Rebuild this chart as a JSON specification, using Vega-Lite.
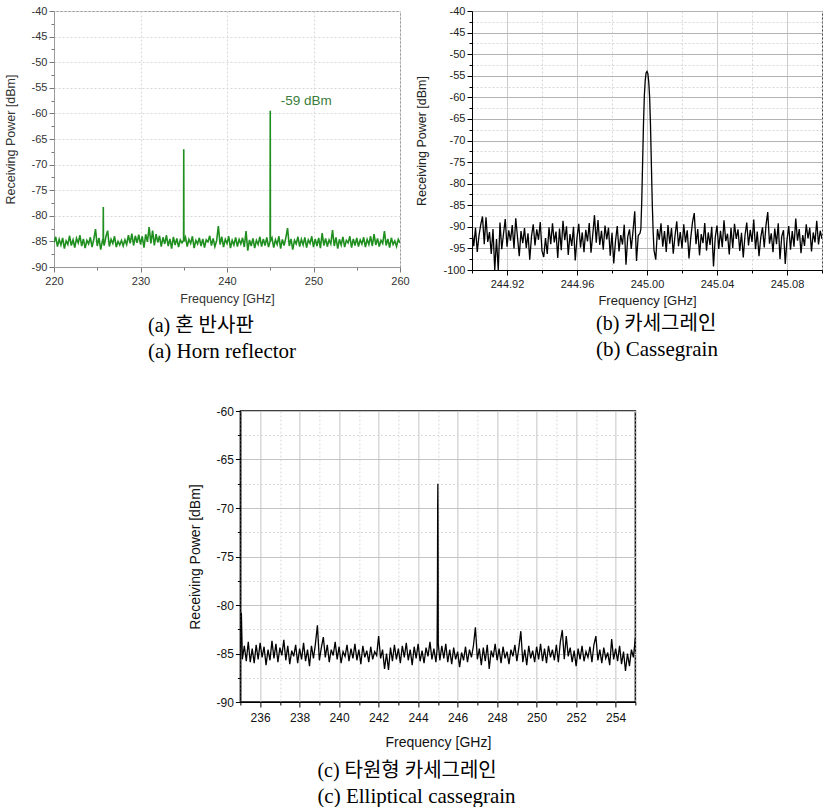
{
"$schema": "https://vega.github.io/schema/vega-lite/v6.json",
"padding": {"left": 3, "top": 4, "right": 0, "bottom": 0},
"config": {"font": "Liberation Sans", "background": "white", "axis": {"labelFlush": false, "labelOverlap": false, "titleFontWeight": "normal"}},
"datasets": {
"horn": [
{"f":220.0,"p":-85.2},{"f":220.2,"p":-84.1},{"f":220.4,"p":-86.0},{"f":220.6,"p":-84.6},{"f":220.8,"p":-85.7},{"f":221.0,"p":-84.3},{"f":221.2,"p":-86.4},{"f":221.4,"p":-84.9},{"f":221.6,"p":-85.6},{"f":221.8,"p":-83.9},
{"f":222.0,"p":-85.8},{"f":222.2,"p":-84.7},{"f":222.4,"p":-86.2},{"f":222.6,"p":-84.4},{"f":222.8,"p":-85.3},{"f":223.0,"p":-83.8},{"f":223.2,"p":-85.9},{"f":223.4,"p":-84.5},{"f":223.6,"p":-86.3},{"f":223.8,"p":-84.8},
{"f":224.0,"p":-85.5},{"f":224.2,"p":-84.2},{"f":224.4,"p":-86.1},{"f":224.6,"p":-84.6},{"f":224.8,"p":-82.6},{"f":225.0,"p":-85.9},{"f":225.2,"p":-84.3},{"f":225.4,"p":-86.6},{"f":225.6,"p":-84.9},{"f":225.68,"p":-85.1},{"f":225.7,"p":-78.3},{"f":225.72,"p":-85.0},{"f":225.8,"p":-85.8},
{"f":226.0,"p":-84.1},{"f":226.2,"p":-82.9},{"f":226.4,"p":-86.0},{"f":226.6,"p":-84.6},{"f":226.8,"p":-85.4},{"f":227.0,"p":-84.0},{"f":227.2,"p":-86.1},{"f":227.4,"p":-85.0},{"f":227.6,"p":-85.7},{"f":227.8,"p":-84.8},
{"f":228.0,"p":-85.9},{"f":228.2,"p":-84.7},{"f":228.4,"p":-85.6},{"f":228.6,"p":-83.8},{"f":228.8,"p":-85.4},{"f":229.0,"p":-83.5},{"f":229.2,"p":-85.8},{"f":229.4,"p":-83.9},{"f":229.6,"p":-85.3},{"f":229.8,"p":-83.7},
{"f":230.0,"p":-85.6},{"f":230.2,"p":-84.0},{"f":230.4,"p":-86.2},{"f":230.6,"p":-83.6},{"f":230.8,"p":-85.1},{"f":231.0,"p":-82.2},{"f":231.2,"p":-85.4},{"f":231.4,"p":-82.9},{"f":231.6,"p":-85.8},{"f":231.8,"p":-83.6},
{"f":232.0,"p":-85.2},{"f":232.2,"p":-83.9},{"f":232.4,"p":-86.0},{"f":232.6,"p":-84.2},{"f":232.8,"p":-85.5},{"f":233.0,"p":-83.8},{"f":233.2,"p":-85.9},{"f":233.4,"p":-84.5},{"f":233.6,"p":-86.4},{"f":233.8,"p":-84.1},
{"f":234.0,"p":-85.7},{"f":234.2,"p":-84.4},{"f":234.4,"p":-86.1},{"f":234.6,"p":-84.7},{"f":234.8,"p":-85.3},{"f":234.98,"p":-84.8},{"f":235.0,"p":-67.0},{"f":235.02,"p":-85.0},{"f":235.2,"p":-84.2},{"f":235.4,"p":-86.0},{"f":235.6,"p":-84.6},{"f":235.8,"p":-85.4},
{"f":236.0,"p":-84.0},{"f":236.2,"p":-86.3},{"f":236.4,"p":-84.8},{"f":236.6,"p":-85.5},{"f":236.8,"p":-84.3},{"f":237.0,"p":-85.9},{"f":237.2,"p":-84.5},{"f":237.4,"p":-86.2},{"f":237.6,"p":-84.7},{"f":237.8,"p":-85.1},
{"f":238.0,"p":-83.9},{"f":238.2,"p":-85.8},{"f":238.4,"p":-84.4},{"f":238.6,"p":-86.0},{"f":238.8,"p":-84.9},{"f":239.0,"p":-82.0},{"f":239.2,"p":-85.6},{"f":239.4,"p":-84.1},{"f":239.6,"p":-86.1},{"f":239.8,"p":-84.6},
{"f":240.0,"p":-85.4},{"f":240.2,"p":-84.0},{"f":240.4,"p":-86.3},{"f":240.6,"p":-84.8},{"f":240.8,"p":-85.7},{"f":241.0,"p":-84.2},{"f":241.2,"p":-86.0},{"f":241.4,"p":-84.6},{"f":241.6,"p":-85.5},{"f":241.8,"p":-84.3},
{"f":242.0,"p":-86.1},{"f":242.2,"p":-83.0},{"f":242.4,"p":-86.8},{"f":242.6,"p":-84.7},{"f":242.8,"p":-85.9},{"f":243.0,"p":-84.4},{"f":243.2,"p":-86.3},{"f":243.4,"p":-84.8},{"f":243.6,"p":-85.6},{"f":243.8,"p":-84.1},
{"f":244.0,"p":-86.0},{"f":244.2,"p":-84.5},{"f":244.4,"p":-85.8},{"f":244.6,"p":-84.2},{"f":244.8,"p":-86.1},{"f":244.98,"p":-85.0},{"f":245.0,"p":-59.5},{"f":245.02,"p":-84.9},{"f":245.2,"p":-84.3},{"f":245.4,"p":-86.2},{"f":245.6,"p":-84.7},{"f":245.8,"p":-85.6},
{"f":246.0,"p":-84.0},{"f":246.2,"p":-86.4},{"f":246.4,"p":-84.6},{"f":246.6,"p":-85.8},{"f":246.8,"p":-84.3},{"f":247.0,"p":-82.4},{"f":247.2,"p":-85.9},{"f":247.4,"p":-84.5},{"f":247.6,"p":-86.6},{"f":247.8,"p":-84.8},
{"f":248.0,"p":-85.5},{"f":248.2,"p":-84.1},{"f":248.4,"p":-86.0},{"f":248.6,"p":-84.6},{"f":248.8,"p":-85.7},{"f":249.0,"p":-84.2},{"f":249.2,"p":-86.2},{"f":249.4,"p":-84.7},{"f":249.6,"p":-85.4},{"f":249.8,"p":-84.0},
{"f":250.0,"p":-86.1},{"f":250.2,"p":-84.5},{"f":250.4,"p":-85.9},{"f":250.6,"p":-84.3},{"f":250.8,"p":-86.3},{"f":251.0,"p":-83.4},{"f":251.2,"p":-85.8},{"f":251.4,"p":-84.4},{"f":251.6,"p":-86.0},{"f":251.8,"p":-84.7},
{"f":252.0,"p":-85.5},{"f":252.2,"p":-82.8},{"f":252.4,"p":-85.9},{"f":252.6,"p":-84.2},{"f":252.8,"p":-86.4},{"f":253.0,"p":-84.6},{"f":253.2,"p":-85.7},{"f":253.4,"p":-84.1},{"f":253.6,"p":-86.1},{"f":253.8,"p":-84.8},
{"f":254.0,"p":-85.3},{"f":254.2,"p":-84.0},{"f":254.4,"p":-86.2},{"f":254.6,"p":-84.5},{"f":254.8,"p":-85.8},{"f":255.0,"p":-84.3},{"f":255.2,"p":-86.0},{"f":255.4,"p":-84.7},{"f":255.6,"p":-85.5},{"f":255.8,"p":-84.2},
{"f":256.0,"p":-86.1},{"f":256.2,"p":-84.6},{"f":256.4,"p":-85.6},{"f":256.6,"p":-84.0},{"f":256.8,"p":-85.9},{"f":257.0,"p":-83.6},{"f":257.2,"p":-85.7},{"f":257.4,"p":-84.4},{"f":257.6,"p":-86.0},{"f":257.8,"p":-84.8},
{"f":258.0,"p":-85.4},{"f":258.2,"p":-83.0},{"f":258.4,"p":-85.8},{"f":258.6,"p":-84.5},{"f":258.8,"p":-86.2},{"f":259.0,"p":-84.3},{"f":259.2,"p":-85.6},{"f":259.4,"p":-84.9},{"f":259.6,"p":-86.0},{"f":259.8,"p":-84.6},{"f":260.0,"p":-85.3}
],
"cass": [
{"f":244.900,"p":-91.0},{"f":244.901,"p":-94.5},{"f":244.902,"p":-90.2},{"f":244.903,"p":-95.8},{"f":244.904,"p":-92.0},{"f":244.905,"p":-89.5},{"f":244.906,"p":-87.6},{"f":244.907,"p":-94.0},{"f":244.908,"p":-87.8},{"f":244.909,"p":-93.5},
{"f":244.910,"p":-91.2},{"f":244.911,"p":-96.3},{"f":244.912,"p":-90.5},{"f":244.913,"p":-100.0},{"f":244.914,"p":-92.8},{"f":244.915,"p":-100.0},{"f":244.916,"p":-89.0},{"f":244.917,"p":-95.2},{"f":244.918,"p":-91.6},{"f":244.919,"p":-88.2},
{"f":244.920,"p":-94.6},{"f":244.921,"p":-90.8},{"f":244.922,"p":-93.2},{"f":244.923,"p":-89.6},{"f":244.924,"p":-95.0},{"f":244.925,"p":-88.0},{"f":244.926,"p":-92.4},{"f":244.927,"p":-96.8},{"f":244.928,"p":-91.0},{"f":244.929,"p":-93.8},
{"f":244.930,"p":-90.3},{"f":244.931,"p":-94.9},{"f":244.932,"p":-91.5},{"f":244.933,"p":-97.6},{"f":244.934,"p":-92.2},{"f":244.935,"p":-89.4},{"f":244.936,"p":-94.3},{"f":244.937,"p":-90.6},{"f":244.938,"p":-93.0},{"f":244.939,"p":-88.9},
{"f":244.940,"p":-95.6},{"f":244.941,"p":-97.0},{"f":244.942,"p":-92.6},{"f":244.943,"p":-96.3},{"f":244.944,"p":-90.1},{"f":244.945,"p":-94.0},{"f":244.946,"p":-89.2},{"f":244.947,"p":-93.6},{"f":244.948,"p":-91.1},{"f":244.949,"p":-97.2},
{"f":244.950,"p":-90.4},{"f":244.951,"p":-95.4},{"f":244.952,"p":-88.6},{"f":244.953,"p":-93.1},{"f":244.954,"p":-89.9},{"f":244.955,"p":-96.5},{"f":244.956,"p":-91.7},{"f":244.957,"p":-94.4},{"f":244.958,"p":-90.0},{"f":244.959,"p":-97.8},
{"f":244.960,"p":-92.5},{"f":244.961,"p":-89.3},{"f":244.962,"p":-94.8},{"f":244.963,"p":-91.3},{"f":244.964,"p":-95.9},{"f":244.965,"p":-90.7},{"f":244.966,"p":-93.4},{"f":244.967,"p":-89.1},{"f":244.968,"p":-96.0},{"f":244.969,"p":-91.8},
{"f":244.970,"p":-87.3},{"f":244.971,"p":-93.7},{"f":244.972,"p":-88.4},{"f":244.973,"p":-94.2},{"f":244.974,"p":-90.9},{"f":244.975,"p":-95.3},{"f":244.976,"p":-89.7},{"f":244.977,"p":-92.9},{"f":244.978,"p":-90.2},{"f":244.979,"p":-96.7},
{"f":244.980,"p":-91.4},{"f":244.981,"p":-98.5},{"f":244.982,"p":-93.3},{"f":244.983,"p":-89.8},{"f":244.984,"p":-95.7},{"f":244.985,"p":-91.9},{"f":244.986,"p":-94.1},{"f":244.987,"p":-89.5},{"f":244.988,"p":-98.8},{"f":244.989,"p":-92.3},
{"f":244.990,"p":-90.6},{"f":244.991,"p":-95.1},{"f":244.992,"p":-91.0},{"f":244.993,"p":-86.4},{"f":244.994,"p":-97.9},{"f":244.995,"p":-92.0},{"f":244.996,"p":-91.5},
{"f":244.9965,"p":-90.5},{"f":244.9970,"p":-84.0},{"f":244.9975,"p":-75.0},{"f":244.9980,"p":-66.0},{"f":244.9985,"p":-59.5},{"f":244.9990,"p":-56.0},{"f":244.9995,"p":-54.3},{"f":245.0000,"p":-54.0},{"f":245.0005,"p":-54.5},{"f":245.0010,"p":-56.5},{"f":245.0015,"p":-60.0},{"f":245.0020,"p":-66.5},{"f":245.0025,"p":-75.5},{"f":245.0030,"p":-84.5},{"f":245.0035,"p":-91.0},
{"f":245.004,"p":-95.4},{"f":245.005,"p":-97.6},{"f":245.006,"p":-90.5},{"f":245.007,"p":-93.0},{"f":245.008,"p":-89.2},{"f":245.009,"p":-94.6},
{"f":245.010,"p":-91.0},{"f":245.011,"p":-95.8},{"f":245.012,"p":-89.6},{"f":245.013,"p":-93.9},{"f":245.014,"p":-90.3},{"f":245.015,"p":-96.2},{"f":245.016,"p":-92.1},{"f":245.017,"p":-88.7},{"f":245.018,"p":-94.5},{"f":245.019,"p":-91.2},
{"f":245.020,"p":-95.0},{"f":245.021,"p":-89.4},{"f":245.022,"p":-93.6},{"f":245.023,"p":-90.8},{"f":245.024,"p":-97.3},{"f":245.025,"p":-92.6},{"f":245.026,"p":-88.9},{"f":245.027,"p":-86.8},{"f":245.028,"p":-94.0},{"f":245.029,"p":-90.5},
{"f":245.030,"p":-96.6},{"f":245.031,"p":-91.7},{"f":245.032,"p":-93.8},{"f":245.033,"p":-89.1},{"f":245.034,"p":-95.5},{"f":245.035,"p":-91.3},{"f":245.036,"p":-94.2},{"f":245.037,"p":-90.0},{"f":245.038,"p":-99.2},{"f":245.039,"p":-92.4},
{"f":245.040,"p":-89.7},{"f":245.041,"p":-95.1},{"f":245.042,"p":-90.9},{"f":245.043,"p":-94.7},{"f":245.044,"p":-88.5},{"f":245.045,"p":-93.3},{"f":245.046,"p":-91.6},{"f":245.047,"p":-96.4},{"f":245.048,"p":-90.2},{"f":245.049,"p":-94.9},
{"f":245.050,"p":-89.3},{"f":245.051,"p":-92.8},{"f":245.052,"p":-90.6},{"f":245.053,"p":-95.6},{"f":245.054,"p":-91.4},{"f":245.055,"p":-97.1},{"f":245.056,"p":-92.0},{"f":245.057,"p":-89.0},{"f":245.058,"p":-94.3},{"f":245.059,"p":-90.7},
{"f":245.060,"p":-93.5},{"f":245.061,"p":-88.3},{"f":245.062,"p":-95.2},{"f":245.063,"p":-91.1},{"f":245.064,"p":-96.8},{"f":245.065,"p":-92.5},{"f":245.066,"p":-90.1},{"f":245.067,"p":-94.8},{"f":245.068,"p":-89.6},{"f":245.069,"p":-86.6},
{"f":245.070,"p":-93.9},{"f":245.071,"p":-91.5},{"f":245.072,"p":-95.9},{"f":245.073,"p":-90.4},{"f":245.074,"p":-94.0},{"f":245.075,"p":-89.2},{"f":245.076,"p":-97.5},{"f":245.077,"p":-92.2},{"f":245.078,"p":-90.8},{"f":245.079,"p":-98.6},
{"f":245.080,"p":-93.0},{"f":245.081,"p":-89.8},{"f":245.082,"p":-95.3},{"f":245.083,"p":-91.0},{"f":245.084,"p":-94.6},{"f":245.085,"p":-88.1},{"f":245.086,"p":-93.2},{"f":245.087,"p":-90.5},{"f":245.088,"p":-96.1},{"f":245.089,"p":-91.9},
{"f":245.090,"p":-94.4},{"f":245.091,"p":-89.4},{"f":245.092,"p":-92.7},{"f":245.093,"p":-90.2},{"f":245.094,"p":-95.7},{"f":245.095,"p":-91.3},{"f":245.096,"p":-93.6},{"f":245.097,"p":-88.6},{"f":245.098,"p":-94.1},{"f":245.099,"p":-90.9},{"f":245.100,"p":-92.8}
],
"ell": [
{"f":235.0,"p":-85.4},{"f":235.05,"p":-80.8},{"f":235.1,"p":-85.6},{"f":235.2,"p":-84.2},{"f":235.3,"p":-85.8},{"f":235.4,"p":-83.8},{"f":235.5,"p":-85.9},{"f":235.6,"p":-84.5},{"f":235.7,"p":-86.0},{"f":235.8,"p":-84.1},{"f":235.9,"p":-85.6},
{"f":236.0,"p":-83.9},{"f":236.1,"p":-85.4},{"f":236.2,"p":-84.3},{"f":236.3,"p":-86.2},{"f":236.4,"p":-84.6},{"f":236.5,"p":-85.7},{"f":236.6,"p":-83.7},{"f":236.7,"p":-85.5},{"f":236.8,"p":-84.0},{"f":236.9,"p":-85.9},
{"f":237.0,"p":-84.4},{"f":237.1,"p":-85.2},{"f":237.2,"p":-83.6},{"f":237.3,"p":-85.7},{"f":237.4,"p":-84.2},{"f":237.5,"p":-86.1},{"f":237.6,"p":-84.7},{"f":237.7,"p":-85.3},{"f":237.8,"p":-84.1},{"f":237.9,"p":-86.0},
{"f":238.0,"p":-84.5},{"f":238.1,"p":-85.6},{"f":238.2,"p":-83.9},{"f":238.3,"p":-85.8},{"f":238.4,"p":-84.6},{"f":238.5,"p":-86.3},{"f":238.6,"p":-84.2},{"f":238.7,"p":-85.5},{"f":238.8,"p":-84.0},{"f":238.9,"p":-82.1},
{"f":239.0,"p":-85.7},{"f":239.1,"p":-84.4},{"f":239.2,"p":-83.3},{"f":239.3,"p":-85.4},{"f":239.4,"p":-84.1},{"f":239.5,"p":-85.9},{"f":239.6,"p":-84.6},{"f":239.7,"p":-85.2},{"f":239.8,"p":-83.8},{"f":239.9,"p":-85.6},
{"f":240.0,"p":-84.3},{"f":240.1,"p":-86.0},{"f":240.2,"p":-84.8},{"f":240.3,"p":-85.3},{"f":240.4,"p":-84.1},{"f":240.5,"p":-85.8},{"f":240.6,"p":-84.5},{"f":240.7,"p":-85.5},{"f":240.8,"p":-84.0},{"f":240.9,"p":-85.7},
{"f":241.0,"p":-84.6},{"f":241.1,"p":-86.1},{"f":241.2,"p":-84.2},{"f":241.3,"p":-85.4},{"f":241.4,"p":-84.7},{"f":241.5,"p":-85.9},{"f":241.6,"p":-84.3},{"f":241.7,"p":-85.6},{"f":241.8,"p":-84.8},{"f":241.9,"p":-85.2},
{"f":242.0,"p":-83.2},{"f":242.1,"p":-85.5},{"f":242.2,"p":-84.6},{"f":242.3,"p":-86.6},{"f":242.4,"p":-85.0},{"f":242.5,"p":-86.7},{"f":242.6,"p":-84.4},{"f":242.7,"p":-85.8},{"f":242.8,"p":-84.1},{"f":242.9,"p":-85.6},
{"f":243.0,"p":-84.5},{"f":243.1,"p":-86.0},{"f":243.2,"p":-84.2},{"f":243.3,"p":-85.4},{"f":243.4,"p":-83.9},{"f":243.5,"p":-85.7},{"f":243.6,"p":-84.6},{"f":243.7,"p":-86.2},{"f":243.8,"p":-84.3},{"f":243.9,"p":-85.5},
{"f":244.0,"p":-84.0},{"f":244.1,"p":-85.8},{"f":244.2,"p":-84.7},{"f":244.3,"p":-86.0},{"f":244.4,"p":-84.4},{"f":244.5,"p":-85.3},{"f":244.6,"p":-83.8},{"f":244.7,"p":-85.6},{"f":244.8,"p":-84.5},{"f":244.9,"p":-85.9},
{"f":244.96,"p":-84.6},{"f":244.98,"p":-78.2},{"f":244.99,"p":-69.8},{"f":245.0,"p":-67.5},{"f":245.01,"p":-74.5},{"f":245.02,"p":-84.0},
{"f":245.1,"p":-85.7},{"f":245.2,"p":-84.2},{"f":245.3,"p":-85.5},{"f":245.4,"p":-84.0},{"f":245.5,"p":-85.9},{"f":245.6,"p":-84.6},{"f":245.7,"p":-86.1},{"f":245.8,"p":-84.4},{"f":245.9,"p":-85.6},
{"f":246.0,"p":-84.8},{"f":246.1,"p":-86.4},{"f":246.2,"p":-84.9},{"f":246.3,"p":-85.7},{"f":246.4,"p":-84.3},{"f":246.5,"p":-85.9},{"f":246.6,"p":-84.6},{"f":246.7,"p":-85.4},{"f":246.8,"p":-84.2},{"f":246.9,"p":-82.3},
{"f":247.0,"p":-85.6},{"f":247.1,"p":-84.5},{"f":247.2,"p":-86.2},{"f":247.3,"p":-84.4},{"f":247.4,"p":-85.8},{"f":247.5,"p":-84.1},{"f":247.6,"p":-86.6},{"f":247.7,"p":-84.7},{"f":247.8,"p":-85.4},{"f":247.9,"p":-84.0},
{"f":248.0,"p":-85.7},{"f":248.1,"p":-84.5},{"f":248.2,"p":-86.0},{"f":248.3,"p":-84.3},{"f":248.4,"p":-85.5},{"f":248.5,"p":-84.8},{"f":248.6,"p":-86.1},{"f":248.7,"p":-84.6},{"f":248.8,"p":-85.3},{"f":248.9,"p":-84.1},
{"f":249.0,"p":-85.8},{"f":249.1,"p":-84.4},{"f":249.2,"p":-82.7},{"f":249.3,"p":-85.9},{"f":249.4,"p":-84.6},{"f":249.5,"p":-86.2},{"f":249.6,"p":-84.2},{"f":249.7,"p":-85.5},{"f":249.8,"p":-84.7},{"f":249.9,"p":-85.9},
{"f":250.0,"p":-84.3},{"f":250.1,"p":-85.6},{"f":250.2,"p":-84.0},{"f":250.3,"p":-85.8},{"f":250.4,"p":-84.5},{"f":250.5,"p":-86.0},{"f":250.6,"p":-84.2},{"f":250.7,"p":-85.4},{"f":250.8,"p":-84.6},{"f":250.9,"p":-85.7},
{"f":251.0,"p":-84.1},{"f":251.1,"p":-85.9},{"f":251.2,"p":-83.8},{"f":251.3,"p":-82.6},{"f":251.4,"p":-85.6},{"f":251.5,"p":-83.2},{"f":251.6,"p":-85.3},{"f":251.7,"p":-84.4},{"f":251.8,"p":-85.9},{"f":251.9,"p":-84.7},
{"f":252.0,"p":-86.3},{"f":252.1,"p":-84.5},{"f":252.2,"p":-85.6},{"f":252.3,"p":-84.2},{"f":252.4,"p":-85.8},{"f":252.5,"p":-84.8},{"f":252.6,"p":-85.4},{"f":252.7,"p":-84.3},{"f":252.8,"p":-85.9},{"f":252.9,"p":-84.1},
{"f":253.0,"p":-83.2},{"f":253.1,"p":-85.7},{"f":253.2,"p":-84.6},{"f":253.3,"p":-86.0},{"f":253.4,"p":-84.4},{"f":253.5,"p":-85.5},{"f":253.6,"p":-84.9},{"f":253.7,"p":-86.2},{"f":253.8,"p":-83.5},{"f":253.9,"p":-85.6},
{"f":254.0,"p":-84.5},{"f":254.1,"p":-85.8},{"f":254.2,"p":-84.2},{"f":254.3,"p":-86.1},{"f":254.4,"p":-84.8},{"f":254.5,"p":-86.8},{"f":254.6,"p":-85.0},{"f":254.7,"p":-86.3},{"f":254.8,"p":-84.6},{"f":254.9,"p":-85.4},{"f":255.0,"p":-83.4}
],
"note": [{"f":246.2,"p":-57.6,"t":"-59 dBm"}]
},
"vconcat": [
{
"hconcat": [
{
"width": 346, "height": 256,
"view": {"stroke": "#999999", "strokeWidth": 1},
"title": {"text": "(a) 혼 반사판", "subtitle": "(a) Horn reflector", "orient": "bottom", "anchor": "start", "frame": "group", "dx": 94, "offset": 11, "font": "Liberation Serif, Noto Sans CJK KR", "fontSize": 20, "fontWeight": "normal", "color": "black", "subtitleFont": "Liberation Serif", "subtitleFontSize": 21, "subtitleColor": "black", "subtitlePadding": 5},
"encoding": {
"x": {"field": "f", "type": "quantitative", "scale": {"domain": [220, 260], "nice": false, "zero": false},
"axis": {"title": "Frequency [GHz]", "values": [220,225,230,235,240,245,250,255,260], "labelExpr": "datum.value % 10 === 0 ? datum.label : ''", "labelFontSize": 11, "labelColor": "#333333", "labelPadding": 3, "titleFontSize": 12.5, "titleColor": "#333333", "titlePadding": 6, "domainColor": "#999999", "tickColor": "#777777", "tickSize": {"condition": {"test": "datum.value % 10 === 0", "value": 5}, "value": 3}, "gridColor": "#d8d8d8", "gridDash": [2, 2], "gridOpacity": {"condition": {"test": "datum.value % 10 === 0", "value": 1}, "value": 0}}},
"y": {"field": "p", "type": "quantitative", "scale": {"domain": [-90, -40], "nice": false, "zero": false},
"axis": {"title": "Receiving Power [dBm]", "values": [-90,-87.5,-85,-82.5,-80,-77.5,-75,-72.5,-70,-67.5,-65,-62.5,-60,-57.5,-55,-52.5,-50,-47.5,-45,-42.5,-40], "labelExpr": "datum.value % 5 === 0 ? '-' + abs(datum.value) : ''", "labelFontSize": 11, "labelColor": "#333333", "labelPadding": 2, "titleFontSize": 12.5, "titleColor": "#333333", "titlePadding": 14, "domainColor": "#999999", "tickColor": "#777777", "tickSize": {"condition": {"test": "datum.value % 5 === 0", "value": 5}, "value": 3}, "gridColor": "#d8d8d8", "gridDash": [2, 2], "gridOpacity": {"condition": {"test": "datum.value % 5 === 0", "value": 1}, "value": 0}}}
},
"layer": [
{
"data": {"name": "horn"},
"mark": {"type": "line", "color": "#1f8f1f", "strokeWidth": 1.6, "clip": true}
},
{
"data": {"name": "note"},
"mark": {"type": "text", "align": "left", "baseline": "middle", "fontSize": 13.5, "color": "#3a7d3a"},
"encoding": {"text": {"field": "t"}}
}
]
},
{
"width": 350, "height": 259,
"view": {"stroke": "#444444", "strokeWidth": 1},
"title": {"text": "(b) 카세그레인", "subtitle": "(b) Cassegrain", "orient": "bottom", "anchor": "start", "frame": "group", "dx": 124, "offset": 7, "font": "Liberation Serif, Noto Sans CJK KR", "fontSize": 20, "fontWeight": "normal", "color": "black", "subtitleFont": "Liberation Serif", "subtitleFontSize": 21, "subtitleColor": "black", "subtitlePadding": 5},
"data": {"name": "cass"},
"mark": {"type": "line", "color": "black", "strokeWidth": 1.3, "clip": true},
"encoding": {
"x": {"field": "f", "type": "quantitative", "scale": {"domain": [244.9, 245.1], "nice": false, "zero": false},
"axis": {"title": "Frequency [GHz]", "values": [244.90,244.92,244.94,244.96,244.98,245.00,245.02,245.04,245.06,245.08,245.10], "labelExpr": "round(datum.value*100) % 4 === 0 ? format(datum.value, '.2f') : ''", "labelFontSize": 11, "labelColor": "#222222", "labelPadding": 3, "titleFontSize": 13, "titleColor": "#222222", "titlePadding": 5, "domainColor": "black", "tickColor": "black", "tickSize": {"condition": {"test": "round(datum.value*100) % 4 === 0", "value": 5}, "value": 3}, "gridColor": {"condition": {"test": "round(datum.value*100) % 4 === 0", "value": "#cccccc"}, "value": "#d6d6d6"}, "gridDash": {"condition": {"test": "round(datum.value*100) % 4 === 0", "value": []}, "value": [2, 2]}}},
"y": {"field": "p", "type": "quantitative", "scale": {"domain": [-100, -40], "nice": false, "zero": false},
"axis": {"title": "Receiving Power [dBm]", "values": [-100,-97.5,-95,-92.5,-90,-87.5,-85,-82.5,-80,-77.5,-75,-72.5,-70,-67.5,-65,-62.5,-60,-57.5,-55,-52.5,-50,-47.5,-45,-42.5,-40], "labelExpr": "datum.value % 5 === 0 ? '-' + abs(datum.value) : ''", "labelFontSize": 11, "labelColor": "#222222", "labelPadding": 2, "titleFontSize": 12.5, "titleColor": "#222222", "titlePadding": 14, "domainColor": "black", "tickColor": "black", "tickSize": {"condition": {"test": "datum.value % 5 === 0", "value": 5}, "value": 3}, "gridColor": {"condition": {"test": "datum.value % 5 === 0", "value": "#b4b4b4"}, "value": "#d6d6d6"}, "gridDash": {"condition": {"test": "datum.value % 5 === 0", "value": []}, "value": [2, 2]}}}
}
}
],
"spacing": 5
},
{
"width": 395, "height": 291,
"view": {"stroke": "black", "strokeWidth": 1.5},
"title": {"text": "(c) 타원형 카세그레인", "subtitle": "(c) Elliptical cassegrain", "orient": "bottom", "anchor": "start", "frame": "group", "dx": 77, "offset": 12, "font": "Liberation Serif, Noto Sans CJK KR", "fontSize": 20, "fontWeight": "normal", "color": "black", "subtitleFont": "Liberation Serif", "subtitleFontSize": 21, "subtitleColor": "black", "subtitlePadding": 5},
"data": {"name": "ell"},
"mark": {"type": "line", "color": "black", "strokeWidth": 1.3, "clip": true},
"encoding": {
"x": {"field": "f", "type": "quantitative", "scale": {"domain": [235, 255], "nice": false, "zero": false},
"axis": {"title": "Frequency [GHz]", "values": [235,236,237,238,239,240,241,242,243,244,245,246,247,248,249,250,251,252,253,254,255], "labelExpr": "datum.value % 2 === 0 ? datum.label : ''", "labelFontSize": 12, "labelColor": "#111111", "labelPadding": 5, "titleFontSize": 14, "titleColor": "#111111", "titlePadding": 12, "domainColor": "black", "tickColor": "black", "tickSize": {"condition": {"test": "datum.value % 2 === 0", "value": 5}, "value": 3}, "gridColor": {"condition": {"test": "datum.value % 2 === 0", "value": "#c4c4c4"}, "value": "#dadada"}, "gridDash": {"condition": {"test": "datum.value % 2 === 0", "value": []}, "value": [2, 2]}}},
"y": {"field": "p", "type": "quantitative", "scale": {"domain": [-90, -60], "nice": false, "zero": false},
"axis": {"title": "Receiving Power [dBm]", "values": [-90,-87.5,-85,-82.5,-80,-77.5,-75,-72.5,-70,-67.5,-65,-62.5,-60], "labelExpr": "datum.value % 5 === 0 ? '-' + abs(datum.value) : ''", "labelFontSize": 12, "labelColor": "#111111", "labelPadding": 2, "titleFontSize": 14, "titleColor": "#111111", "titlePadding": 14, "domainColor": "black", "tickColor": "black", "tickSize": {"condition": {"test": "datum.value % 5 === 0", "value": 5}, "value": 3}, "gridColor": {"condition": {"test": "datum.value % 5 === 0", "value": "#c4c4c4"}, "value": "#dadada"}, "gridDash": {"condition": {"test": "datum.value % 5 === 0", "value": []}, "value": [2, 2]}}}
}
}
],
"spacing": 42,
"center": true
}
